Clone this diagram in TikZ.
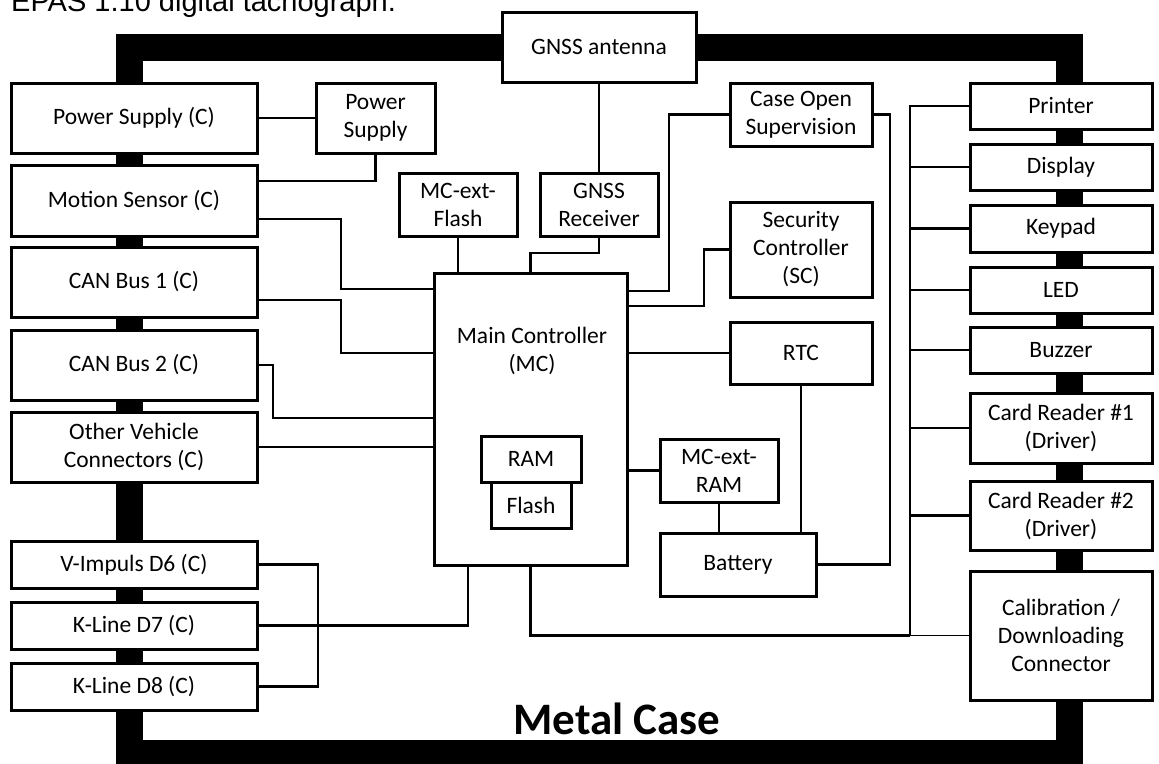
\documentclass[tikz,border=0pt]{standalone}
\usepackage{fontspec}
\setmainfont{Carlito}
\newfontfamily\headfont{Liberation Sans}
\usepackage{tikz}
\usetikzlibrary{positioning}

\begin{document}
\begin{tikzpicture}[x=1pt, y=-1pt,
  conbox/.style={draw, line width=3pt, fill=white, inner sep=0pt, outer sep=0pt, align=center, font=\fontsize{23.5}{28}\selectfont, minimum width=246pt, minimum height=70pt},
  partbox/.style={draw, line width=3pt, fill=white, inner sep=0pt, outer sep=0pt, align=center, font=\fontsize{23.5}{28}\selectfont},
  periphbox/.style={partbox, minimum width=182pt, minimum height=46pt},
  wire/.style={line width=2.5pt},
  thinwire/.style={line width=1.5pt},
  casebar/.style={line width=27pt}
]
\useasboundingbox (0,0) rectangle (1159,763);

\node[anchor=base west, font=\headfont\fontsize{29}{34}\selectfont, inner sep=0pt] (title) at (11,11) {EPAS 1.10 digital tachograph.};

% metal case
\draw[casebar] (129,47) rectangle (1069.5,753.5);
\node[font=\fontsize{45}{52}\selectfont\bfseries, inner sep=0pt] (metal) at (617,719) {Metal Case};

% vehicle side connectors
\node[conbox] (psc) at (134,118) {Power Supply (C)};
\node[conbox, minimum height=71pt, below=12pt of psc] (ms) {Motion Sensor (C)};
\node[conbox] (canA) at (134,282) {CAN Bus 1 (C)};
\node[conbox, below=13pt of canA] (canB) {CAN Bus 2 (C)};
\node[conbox, below=12pt of canB] (ovc) {Other Vehicle\\Connectors (C)};
\node[conbox, minimum height=47pt] (vimp) at (134,564.5) {V-Impuls D6 (C)};
\node[conbox, minimum height=47pt, below=14pt of vimp] (klsev) {K-Line D7 (C)};
\node[conbox, minimum height=47pt, below=14pt of klsev] (kleig) {K-Line D8 (C)};

% inner parts
\node[partbox, minimum width=119pt, minimum height=70pt] (psu) at (375.5,118) {Power\\Supply};
\node[partbox, minimum width=194pt, minimum height=70pt] (ant) at (599,47) {GNSS antenna};
\node[partbox, minimum width=118pt, minimum height=63pt] (gnss) at (599,204.5) {GNSS\\Receiver};
\node[partbox, minimum width=118pt, minimum height=63pt] (extflash) at (458,204.5) {MC-ext-\\Flash};
\node[partbox, minimum width=142pt, minimum height=63pt] (cos) at (801,114.5) {Case Open\\Supervision};
\node[partbox, minimum width=142pt, minimum height=95pt] (sc) at (801,249.5) {Security\\Controller\\(SC)};
\node[partbox, minimum width=142pt, minimum height=62pt] (rtc) at (801,353) {RTC};
\node[partbox, minimum width=193pt, minimum height=292pt] (mc) at (530.5,419) {};
\node[font=\fontsize{23.5}{28}\selectfont, align=center] (mctext) at (532,351) {Main Controller\\(MC)};
\node[partbox, minimum width=80pt, minimum height=46pt] (flash) at (531,505) {Flash};
\node[partbox, minimum width=100pt, minimum height=46pt] (ram) at (531,459) {RAM};
\node[partbox, minimum width=118pt, minimum height=63pt] (extram) at (719,470.5) {MC-ext-\\RAM};
\node[partbox, minimum width=156pt, minimum height=63pt] (bat) at (738,564.5) {Battery};

% driver side
\node[periphbox] (printer) at (1061,106) {Printer};
\node[periphbox, below=15pt of printer] (disp) {Display};
\node[periphbox, minimum height=47pt, below=15pt of disp] (keypad) {Keypad};
\node[periphbox, below=15pt of keypad] (led) {LED};
\node[periphbox, below=14pt of led] (buzzer) {Buzzer};
\node[periphbox, minimum height=70pt, below=20pt of buzzer] (cardA) {Card Reader \#1\\(Driver)};
\node[periphbox, minimum height=69pt, below=18pt of cardA] (cardB) {Card Reader \#2\\(Driver)};
\node[periphbox, minimum height=129pt, below=21pt of cardB] (calib) {Calibration /\\Downloading\\Connector};

% wiring left
\draw[wire] (psc.east) -- (psu.west);
\draw[wire] (psu.south) |- ([yshift=19.5pt]ms.east);
\draw[wire] ([yshift=-18.5pt]ms.east) -- ++(84,0) |- ([yshift=130pt]mc.west);
\draw[wire] ([yshift=-18pt]canA.east) -- ++(84,0) |- ([yshift=66pt]mc.west);
\draw[wire] (canB.east) -- ++(16,0) |- ([yshift=1pt]mc.west);
\draw[thinwire] (ovc.east) -- (ovc.east -| mc.west);
\draw[wire] (klsev.east) -| ([xshift=-62.5pt]mc.south);
\draw[wire] (vimp.east) -- ++(61,0) |- (kleig.east);

% wiring top and right of MC
\draw[wire] (ant.south) -- (gnss.north);
\draw[wire] (gnss.south) -- ++(0,17) -| (mc.north);
\draw[wire] (extflash.south) -- (extflash.south |- mc.north);
\draw[wire] (cos.west) -- ++(-61,0) |- ([yshift=128pt]mc.east);
\draw[wire] (cos.east) -- ++(18,0) |- (bat.east);
\draw[wire] (sc.west) -- ++(-26,0) |- ([yshift=113pt]mc.east);
\draw[wire] (rtc.west) -- (rtc.west -| mc.east);
\draw[wire] (rtc.south) -- (rtc.south |- bat.north);
\draw[wire] (extram.west) -- (extram.west -| mc.east);
\draw[wire] (extram.south) -- (extram.south |- bat.north);

% bus to driver side
\coordinate (busfoot) at (910,635.5);
\draw[wire] (mc.south) |- (busfoot);
\draw[thinwire] (busfoot) -- (calib.west);
\draw[wire] (busfoot) |- (printer.west);
\foreach \p in {disp,keypad,led,buzzer,cardA,cardB}
  \draw[wire] (\p.west) -- (\p.west -| busfoot);
\end{tikzpicture}
\end{document}
